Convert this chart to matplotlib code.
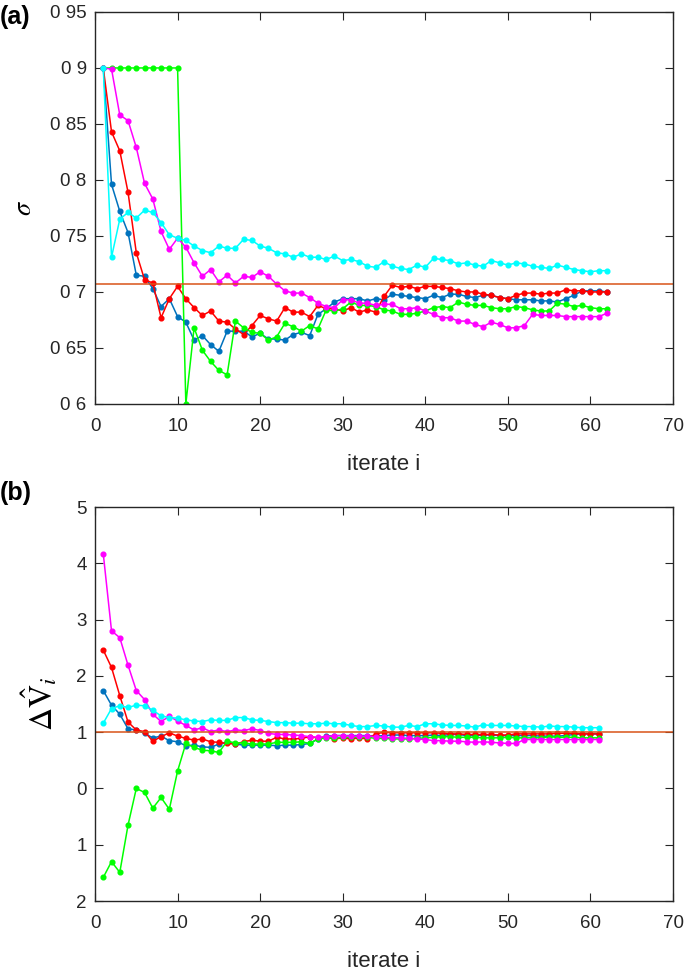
import numpy as np
import matplotlib.pyplot as plt

plt.rcParams['font.family'] = ['Liberation Sans', 'DejaVu Sans']
plt.rcParams['mathtext.fontset'] = 'stix'

# ---- panel (a): sigma per iterate ----
it_a = np.arange(1, 63)

sig_blue = [0.900, 0.796, 0.772, 0.753, 0.715, 0.714, 0.703, 0.687, 0.694, 0.678,
            0.673, 0.657, 0.661, 0.653, 0.647, 0.665, 0.665, 0.665, 0.660, 0.663,
            0.658, 0.658, 0.657, 0.662, 0.664, 0.661, 0.680, 0.685, 0.691, 0.694,
            0.694, 0.694, 0.692, 0.694, 0.693, 0.698, 0.697, 0.696, 0.695, 0.694,
            0.697, 0.695, 0.698, 0.698, 0.696, 0.695, 0.697, 0.697, 0.695, 0.694,
            0.693, 0.693, 0.693, 0.692, 0.692, 0.691, 0.694, 0.697, 0.701, 0.701,
            0.701, 0.700]
sig_red = [0.900, 0.843, 0.826, 0.789, 0.735, 0.711, 0.708, 0.677, 0.694, 0.705,
           0.694, 0.686, 0.679, 0.683, 0.674, 0.673, 0.667, 0.662, 0.670, 0.679,
           0.676, 0.674, 0.686, 0.682, 0.682, 0.678, 0.688, 0.685, 0.685, 0.683,
           0.686, 0.682, 0.684, 0.682, 0.696, 0.706, 0.704, 0.705, 0.703, 0.705,
           0.705, 0.704, 0.703, 0.701, 0.700, 0.700, 0.698, 0.697, 0.695, 0.694,
           0.697, 0.699, 0.699, 0.698, 0.699, 0.699, 0.702, 0.701, 0.701, 0.700,
           0.700, 0.700]
sig_green = [0.900, 0.900, 0.900, 0.900, 0.900, 0.900, 0.900, 0.900, 0.900, 0.900,
             0.600, 0.668, 0.648, 0.638, 0.630, 0.626, 0.674, 0.668, 0.664, 0.663,
             0.657, 0.660, 0.672, 0.669, 0.665, 0.670, 0.667, 0.684, 0.683, 0.685,
             0.691, 0.688, 0.688, 0.687, 0.684, 0.683, 0.680, 0.680, 0.681, 0.683,
             0.686, 0.687, 0.686, 0.691, 0.689, 0.688, 0.688, 0.686, 0.685, 0.685,
             0.687, 0.686, 0.684, 0.683, 0.683, 0.690, 0.689, 0.687, 0.688, 0.686,
             0.685, 0.685]
sig_magenta = [0.900, 0.899, 0.858, 0.853, 0.829, 0.797, 0.783, 0.754, 0.738, 0.748,
               0.740, 0.726, 0.714, 0.720, 0.709, 0.715, 0.708, 0.714, 0.713, 0.718,
               0.714, 0.707, 0.701, 0.699, 0.699, 0.695, 0.690, 0.687, 0.686, 0.693,
               0.693, 0.690, 0.690, 0.688, 0.689, 0.689, 0.685, 0.685, 0.686, 0.683,
               0.680, 0.677, 0.677, 0.674, 0.674, 0.671, 0.669, 0.673, 0.671, 0.668,
               0.668, 0.670, 0.680, 0.679, 0.679, 0.679, 0.678, 0.678, 0.678, 0.678,
               0.678, 0.681]
sig_cyan = [0.900, 0.731, 0.765, 0.771, 0.766, 0.773, 0.771, 0.762, 0.751, 0.748,
            0.746, 0.741, 0.737, 0.735, 0.741, 0.739, 0.739, 0.747, 0.746, 0.741,
            0.739, 0.735, 0.734, 0.731, 0.734, 0.731, 0.731, 0.729, 0.732, 0.728,
            0.729, 0.727, 0.723, 0.722, 0.727, 0.723, 0.721, 0.720, 0.724, 0.722,
            0.730, 0.729, 0.728, 0.725, 0.726, 0.724, 0.723, 0.728, 0.726, 0.724,
            0.726, 0.725, 0.723, 0.722, 0.721, 0.724, 0.722, 0.720, 0.719, 0.718,
            0.719, 0.719]
sig_ref = 0.7071

# ---- panel (b): delta V hat per iterate ----
it_b = np.arange(1, 62)

dv_blue = [1.74, 1.48, 1.32, 1.06, 1.04, 0.98, 0.90, 0.93, 0.85, 0.83,
           0.76, 0.77, 0.74, 0.73, 0.79, 0.82, 0.79, 0.77, 0.77, 0.77,
           0.77, 0.76, 0.77, 0.77, 0.78, 0.80, 0.88, 0.93, 0.94, 0.94,
           0.94, 0.94, 0.94, 0.93, 0.94, 0.95, 0.95, 0.94, 0.94, 0.94,
           0.95, 0.94, 0.96, 0.96, 0.94, 0.94, 0.95, 0.95, 0.94, 0.94,
           0.94, 0.94, 0.94, 0.93, 0.93, 0.93, 0.94, 0.96, 0.97, 0.97,
           0.97]
dv_red = [2.46, 2.15, 1.65, 1.18, 1.04, 1.01, 0.84, 0.92, 0.99, 0.93,
          0.89, 0.86, 0.88, 0.83, 0.82, 0.80, 0.79, 0.83, 0.86, 0.84,
          0.84, 0.91, 0.88, 0.88, 0.89, 0.92, 0.90, 0.91, 0.88, 0.90,
          0.88, 0.90, 0.88, 0.97, 1.00, 0.99, 0.99, 0.99, 0.99, 0.99,
          0.99, 0.98, 0.97, 0.97, 0.96, 0.96, 0.96, 0.96, 0.95, 0.95,
          0.97, 0.97, 0.97, 0.97, 0.97, 0.98, 0.98, 0.98, 0.97, 0.97,
          0.97]
dv_green = [-1.58, -1.30, -1.49, -0.65, 0.00, -0.07, -0.35, -0.16, -0.37, 0.31,
            0.80, 0.73, 0.68, 0.67, 0.64, 0.84, 0.81, 0.81, 0.79, 0.79,
            0.79, 0.82, 0.82, 0.82, 0.83, 0.80, 0.88, 0.90, 0.89, 0.91,
            0.91, 0.91, 0.91, 0.89, 0.89, 0.88, 0.88, 0.88, 0.89, 0.90,
            0.91, 0.92, 0.92, 0.91, 0.91, 0.91, 0.90, 0.90, 0.90, 0.91,
            0.90, 0.90, 0.90, 0.90, 0.92, 0.91, 0.91, 0.91, 0.90, 0.90,
            0.90]
dv_magenta = [4.17, 2.80, 2.68, 2.19, 1.74, 1.58, 1.32, 1.19, 1.28, 1.20,
              1.12, 1.04, 1.08, 1.01, 1.04, 1.01, 1.04, 1.03, 1.06, 1.03,
              0.98, 0.96, 0.96, 0.95, 0.94, 0.92, 0.91, 0.92, 0.94, 0.94,
              0.93, 0.93, 0.93, 0.92, 0.91, 0.90, 0.90, 0.89, 0.88, 0.87,
              0.85, 0.85, 0.84, 0.84, 0.83, 0.82, 0.83, 0.82, 0.81, 0.80,
              0.80, 0.87, 0.87, 0.87, 0.87, 0.87, 0.87, 0.87, 0.87, 0.87,
              0.87]
dv_cyan = [1.16, 1.42, 1.47, 1.44, 1.48, 1.47, 1.39, 1.29, 1.26, 1.25,
           1.22, 1.20, 1.19, 1.22, 1.21, 1.21, 1.26, 1.26, 1.22, 1.21,
           1.19, 1.17, 1.17, 1.16, 1.16, 1.15, 1.15, 1.16, 1.15, 1.15,
           1.12, 1.10, 1.10, 1.12, 1.11, 1.09, 1.09, 1.12, 1.10, 1.15,
           1.15, 1.13, 1.12, 1.12, 1.11, 1.09, 1.13, 1.12, 1.12, 1.12,
           1.11, 1.10, 1.10, 1.09, 1.11, 1.10, 1.10, 1.09, 1.08, 1.08,
           1.08]
dv_ref = 1.0

# tick labels as printed in the figure
yt_a = [0.6, 0.65, 0.7, 0.75, 0.8, 0.85, 0.9, 0.95]
yl_a = ['0 6', '0 65', '0 7', '0 75', '0 8', '0 85', '0 9', '0 95']
yt_b = [-2, -1, 0, 1, 2, 3, 4, 5]
yl_b = ['2', '1', '0', '1', '2', '3', '4', '5']
xt = [0, 10, 20, 30, 40, 50, 60, 70]

colors = {'blue': '#0072BD', 'red': '#FF0000', 'green': '#00FF00',
          'magenta': '#FF00FF', 'cyan': '#00FFFF'}
ref_color = '#D95319'


def style_axes(ax, yticks, ylabels):
    ax.set_xlim(0, 70)
    ax.set_xticks(xt)
    ax.set_xticklabels([str(v) for v in xt])
    ax.set_yticks(yticks)
    ax.set_yticklabels(ylabels)
    ax.tick_params(direction='in', top=True, right=True, length=6, width=0.8,
                   labelsize=13.5, pad=6, colors='#262626')
    ax.tick_params(axis='x', pad=10)
    for s in ax.spines.values():
        s.set_linewidth(1.0)
        s.set_color('#262626')
    ax.set_xlabel('iterate i', fontsize=16, labelpad=14, color='#262626')


fig = plt.figure(figsize=(6.85, 9.72), dpi=100)

ax1 = fig.add_axes([0.1387, 0.5844, 0.8438, 0.4033])
for series, c in [(sig_blue, 'blue'), (sig_red, 'red'), (sig_green, 'green'),
                  (sig_magenta, 'magenta'), (sig_cyan, 'cyan')]:
    ax1.plot(it_a, series, '-o', color=colors[c], lw=1.1, ms=3.4)
ax1.axhline(sig_ref, color=ref_color, lw=1.1)
ax1.set_ylim(0.6, 0.95)
style_axes(ax1, yt_a, yl_a)
ax1.set_ylabel(r'$\sigma$', fontsize=19, labelpad=10)
fig.text(0.0, 0.983, '(a)', fontsize=18, fontweight='bold', va='center')

ax2 = fig.add_axes([0.1387, 0.0730, 0.8438, 0.4053])
for series, c in [(dv_blue, 'blue'), (dv_red, 'red'), (dv_green, 'green'),
                  (dv_magenta, 'magenta'), (dv_cyan, 'cyan')]:
    ax2.plot(it_b, series, '-o', color=colors[c], lw=1.1, ms=3.4)
ax2.axhline(dv_ref, color=ref_color, lw=1.1)
ax2.set_ylim(-2, 5)
style_axes(ax2, yt_b, yl_b)
ax2.set_ylabel(r'$\Delta\hat{\mathrm{V}}_i$', fontsize=23, labelpad=12)
fig.text(0.0, 0.493, '(b)', fontsize=18, fontweight='bold', va='center')

fig.savefig('out.png', dpi=100)
